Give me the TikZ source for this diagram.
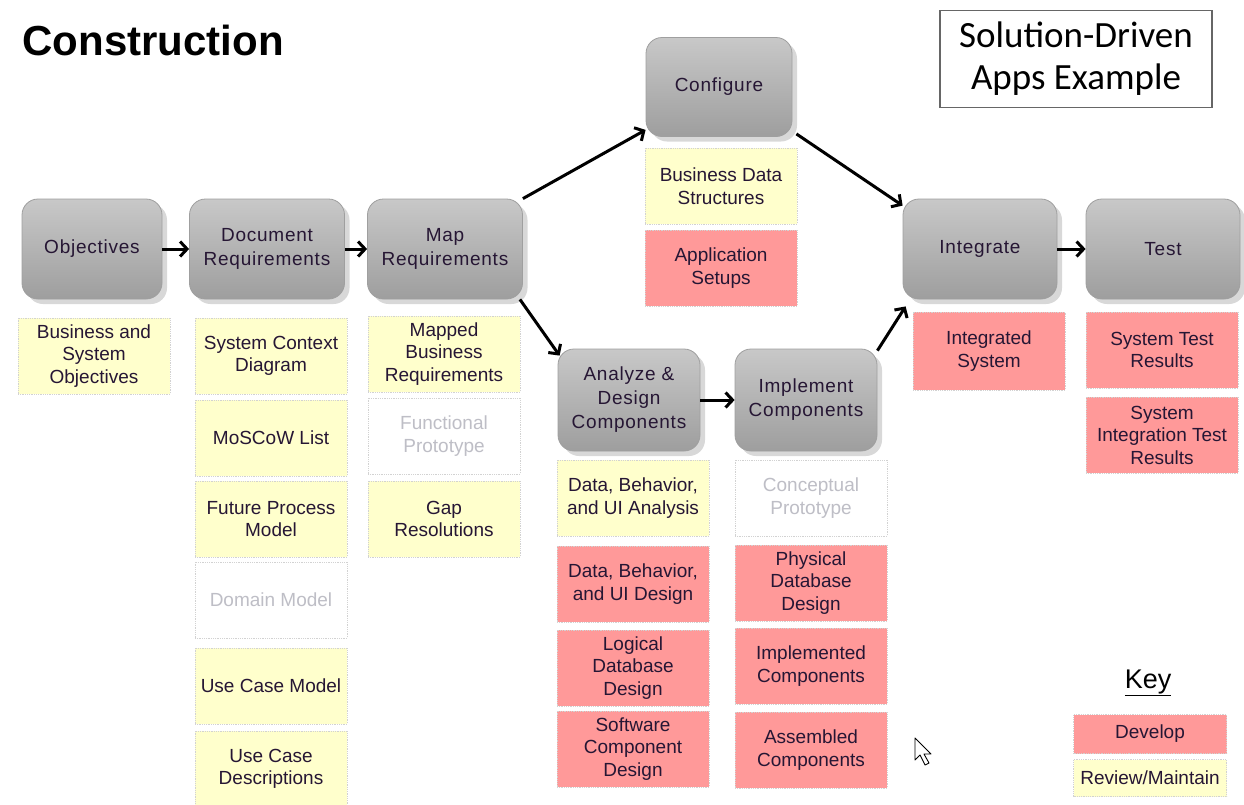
\documentclass[tikz,border=0pt]{standalone}
\usepackage{fontspec}
\setmainfont{Liberation Sans}
\newfontfamily\boxfont[LetterSpace=4]{Liberation Sans}
\newfontfamily\headfont{Carlito}
\usetikzlibrary{arrows.meta,shadows}

\definecolor{ink}{RGB}{38,22,52}
\definecolor{review}{RGB}{255,255,204}
\definecolor{develop}{RGB}{255,153,153}
\definecolor{rim}{RGB}{210,210,210}
\definecolor{faded}{RGB}{190,190,198}
\definecolor{proctop}{RGB}{200,200,200}
\definecolor{procmid}{RGB}{174,174,174}
\definecolor{procbot}{RGB}{158,158,158}

\tikzset{
  proc/.style={rounded corners=16pt, draw=gray!75, line width=0.8pt,
    top color=proctop, middle color=procmid, bottom color=procbot,
    drop shadow={shadow xshift=5pt, shadow yshift=-5pt, opacity=0.3},
    minimum width=155pt, minimum height=100pt, align=center, text=ink,
    font=\boxfont\fontsize{19}{24}\selectfont},
  artifact/.style={draw=rim, densely dotted, line width=0.8pt,
    minimum width=152pt, minimum height=76pt, align=center, text=ink,
    inner sep=2pt, font=\fontsize{19}{22.5}\selectfont},
  reviewbox/.style={artifact, fill=review},
  developbox/.style={artifact, fill=develop},
  optional/.style={artifact, fill=white, text=faded},
  flow/.style={line width=3pt, -{Straight Barb[length=7pt,width=15pt]}},
}

\begin{document}
\begin{tikzpicture}[x=1pt,y=-1pt]
\useasboundingbox[fill=white] (0,0) rectangle (1244,804);

% headings
\node[anchor=west, text=black, font=\bfseries\fontsize{42}{42}\selectfont] (title) at (19,40) {Construction};
\node[draw=gray!80!black, line width=1.5pt, minimum width=272pt, minimum height=97pt,
      align=center, font=\headfont\fontsize{37}{42}\selectfont] (sol) at (1076,59)
      {Solution-Driven\\Apps Example};

% process steps
\node[proc, minimum width=140pt] (obj) at (92,249) {Objectives};
\node[proc] (doc) at (267,249) {Document\\Requirements};
\node[proc] (map) at (445,249) {Map\\Requirements};
\node[proc, minimum width=146pt, minimum height=99pt] (conf) at (719,87) {Configure};
\node[proc, minimum width=142pt, minimum height=102pt] (ana) at (629,400) {Analyze \&\\Design\\Components};
\node[proc, minimum width=142pt, minimum height=102pt] (impl) at (806,400) {Implement\\Components};
\node[proc, minimum width=154pt] (integ) at (980,249) {Integrate};
\node[proc, minimum width=154pt] (test) at (1163,249) {Test};

% work products
\node[reviewbox] (a1) at (94,356) {Business and\\System\\Objectives};

\node[reviewbox] (b1) at (271,356) {System Context\\Diagram};
\node[reviewbox] (b2) at (271,438) {MoSCoW List};
\node[reviewbox] (b3) at (271,519) {Future Process\\Model};
\node[optional]  (b4) at (271,600) {Domain Model};
\node[reviewbox] (b5) at (271,686) {Use Case Model};
\node[reviewbox] (b6) at (271,769) {Use Case\\Descriptions};

\node[reviewbox] (c1) at (444,354) {Mapped\\Business\\Requirements};
\node[optional]  (c2) at (444,436) {Functional\\Prototype};
\node[reviewbox] (c3) at (444,519) {Gap\\Resolutions};

\node[reviewbox]  (d1) at (721,186) {Business Data\\Structures};
\node[developbox] (d2) at (721,268) {Application\\Setups};

\node[reviewbox]  (e1) at (633,498) {Data, Behavior,\\and UI Analysis};
\node[developbox] (e2) at (633,584) {Data, Behavior,\\and UI Design};
\node[developbox] (e3) at (633,668) {Logical\\Database\\Design};
\node[developbox] (e4) at (633,749) {Software\\Component\\Design};

\node[optional]   (f1) at (811,498) {Conceptual\\Prototype};
\node[developbox] (f2) at (811,583) {Physical\\Database\\Design};
\node[developbox] (f3) at (811,666) {Implemented\\Components};
\node[developbox] (f4) at (811,750) {Assembled\\Components};

\node[developbox, minimum height=78pt] (g1) at (989,351) {Integrated\\System};

\node[developbox] (h1) at (1162,350) {System Test\\Results};
\node[developbox] (h2) at (1162,435) {System\\Integration Test\\Results};

% key
\node[text=black, font=\fontsize{27}{27}\selectfont] (key) at (1148,683) {\underline{Key}};
\node[developbox, minimum width=153pt, minimum height=39pt] (kdev) at (1150,734) {Develop};
\node[reviewbox, minimum width=153pt, minimum height=37pt] (krev) at (1150,778) {Review/Maintain};

% flow between steps
\draw[flow] (obj.east) -- (doc.west);
\draw[flow] (doc.east) -- (map.west);
\draw[flow] (map.north east) -- ([yshift=7pt]conf.south west);
\draw[flow] ([xshift=4pt,yshift=3pt]conf.south east) -- ([yshift=-7pt]integ.north west);
\draw[flow] ([xshift=-3pt]map.south east) -- ([xshift=2pt,yshift=-7pt]ana.north west);
\draw[flow] (ana.east) -- (impl.west);
\draw[flow] ([yshift=-2pt]impl.north east) -- ([xshift=3pt,yshift=-7pt]integ.south west);
\draw[flow] (integ.east) -- (test.west);

% pointer
\draw[fill=white, line width=0.9pt, line join=round]
  (915,738) -- ++(0,22) -- ++(5,-5) -- ++(5,10) -- ++(4,-2) -- ++(-5,-9) -- ++(7,0) -- cycle;
\end{tikzpicture}
\end{document}
